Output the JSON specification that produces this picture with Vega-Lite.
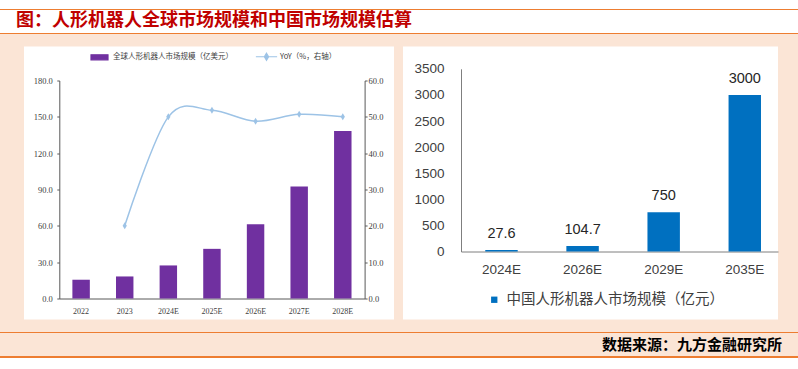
{
  "$schema": "https://vega.github.io/schema/vega-lite/v6.json",
  "background": "#FBE5D6",
  "padding": 0,
  "spacing": 12.5,
  "config": {"view": {"stroke": null}, "font": "Noto Sans CJK SC"},
  "datasets": {
    "global": [
      {"year": "2022", "market": 15.5, "yoy": null},
      {"year": "2023", "market": 18.2, "yoy": 20},
      {"year": "2024E", "market": 27.3, "yoy": 50},
      {"year": "2025E", "market": 41, "yoy": 51.8},
      {"year": "2026E", "market": 61.4, "yoy": 48.8},
      {"year": "2027E", "market": 92.4, "yoy": 50.7},
      {"year": "2028E", "market": 138.4, "yoy": 50}
    ],
    "china": [
      {"year": "2024E", "value": 27.6},
      {"year": "2026E", "value": 104.7},
      {"year": "2029E", "value": 750},
      {"year": "2035E", "value": 3000}
    ],
    "header": [{"t": "图：人形机器人全球市场规模和中国市场规模估算"}],
    "footer": [{"t": "数据来源：九方金融研究所"}]
  },
  "vconcat": [
    {
      "width": 798,
      "height": 34,
      "view": {
        "stroke": null,
        "fill": {
          "gradient": "linear", "x1": 0, "y1": 0, "x2": 0, "y2": 1,
          "stops": [
            {"offset": 0, "color": "#ffffff"},
            {"offset": 0.262, "color": "#ffffff"},
            {"offset": 0.262, "color": "#ED7D31"},
            {"offset": 0.306, "color": "#ED7D31"},
            {"offset": 0.306, "color": "#ffffff"},
            {"offset": 0.963, "color": "#ffffff"},
            {"offset": 0.963, "color": "#ED7D31"},
            {"offset": 1, "color": "#ED7D31"}
          ]
        }
      },
      "data": {"name": "header"},
      "mark": {
        "type": "text",
        "align": "left",
        "baseline": "middle",
        "x": 16,
        "y": 20.5,
        "font": "Noto Sans CJK SC",
        "fontSize": 18,
        "fontWeight": "bold",
        "color": "#C00000"
      },
      "encoding": {"text": {"field": "t", "type": "nominal"}}
    },
    {
      "spacing": 9,
      "resolve": {"scale": {"color": "independent"}, "legend": {"color": "independent"}},
      "hconcat": [
        {
          "width": 15,
          "height": 273,
          "data": {"values": []},
          "mark": "point"
        },
        {
          "width": 370,
          "height": 273,
          "view": {"fill": "#ffffff", "stroke": null},
          "data": {"name": "global"},
          "encoding": {
            "x": {
              "field": "year",
              "type": "ordinal",
              "sort": null,
              "scale": {"range": [35.3, 340.6], "paddingInner": 0.6, "paddingOuter": 0.3},
              "axis": {
                "orient": "bottom",
                "offset": -21,
                "title": null,
                "ticks": false,
                "tickSize": 0,
                "labelAngle": 0,
                "labelPadding": 9,
                "labelFont": "Liberation Serif",
                "labelFontSize": 8,
                "labelColor": "#404040",
                "domainColor": "#595959",
                "domainWidth": 1,
                "grid": false
              }
            }
          },
          "layer": [
            {
              "mark": {"type": "bar"},
              "encoding": {
                "y": {
                  "field": "market",
                  "type": "quantitative",
                  "scale": {"domain": [0, 180], "range": [252, 34], "nice": false, "zero": true},
                  "axis": {
                    "orient": "left",
                    "offset": -35.3,
                    "values": [0, 30, 60, 90, 120, 150, 180],
                    "format": ".1f",
                    "title": null,
                    "grid": false,
                    "tickSize": 2.5,
                    "labelPadding": 4.5,
                    "labelFont": "Liberation Serif",
                    "labelFontSize": 8.5,
                    "labelColor": "#404040",
                    "domainColor": "#595959",
                    "tickColor": "#595959"
                  }
                },
                "color": {
                  "datum": "全球人形机器人市场规模（亿美元）",
                  "scale": {
                    "domain": ["全球人形机器人市场规模（亿美元）", "YoY（%，右轴）"],
                    "range": ["#7030A0", "#9DC3E6"]
                  },
                  "legend": {
                    "orient": "none",
                    "legendX": 66,
                    "legendY": 0.5,
                    "direction": "horizontal",
                    "title": null,
                    "padding": 0,
                    "symbolSize": 289,
                    "labelOffset": 4,
                    "columnPadding": 20,
                    "labelLimit": 0,
                    "labelFont": "Noto Sans CJK SC",
                    "labelFontSize": 7.5,
                    "labelColor": "#404040",
                    "encode": {
                      "symbols": {
                        "update": {
                          "shape": {"signal": "datum.value === 'YoY（%，右轴）' ? 'M-1.25,0L1.25,0M0,-0.42L0.25,0L0,0.42L-0.25,0Z' : 'M-1,-0.3L1,-0.3L1,0.3L-1,0.3Z'"},
                          "fill": {"signal": "datum.value === 'YoY（%，右轴）' ? '#9DC3E6' : '#7030A0'"},
                          "stroke": {"signal": "datum.value === 'YoY（%，右轴）' ? '#9DC3E6' : '#7030A0'"},
                          "strokeWidth": {"value": 1.2},
                          "opacity": {"value": 1}
                        }
                      }
                    }
                  }
                }
              }
            },
            {
              "mark": {
                "type": "line",
                "interpolate": "cardinal",
                "strokeWidth": 1.5,
                "point": {"shape": "M0,-1L0.6,0L0,1L-0.6,0Z", "size": 50, "filled": true}
              },
              "encoding": {
                "y": {
                  "field": "yoy",
                  "type": "quantitative",
                  "scale": {"domain": [0, 60], "range": [252, 34], "nice": false},
                  "axis": {
                    "orient": "right",
                    "offset": -29.4,
                    "values": [0, 10, 20, 30, 40, 50, 60],
                    "format": ".1f",
                    "title": null,
                    "grid": false,
                    "tickSize": 2.5,
                    "labelPadding": 1,
                    "labelFont": "Liberation Serif",
                    "labelFontSize": 8.5,
                    "labelColor": "#404040",
                    "domainColor": "#595959",
                    "tickColor": "#595959"
                  }
                },
                "color": {"datum": "YoY（%，右轴）"}
              }
            }
          ],
          "resolve": {"scale": {"y": "independent"}}
        },
        {
          "width": 375,
          "height": 273,
          "view": {"fill": "#ffffff", "stroke": null},
          "data": {"name": "china"},
          "encoding": {
            "x": {
              "field": "year",
              "type": "ordinal",
              "sort": null,
              "scale": {"range": [58, 375], "paddingInner": 0.6, "paddingOuter": 0.2545, "align": 0.588},
              "axis": {
                "orient": "bottom",
                "offset": -68,
                "title": null,
                "ticks": false,
                "tickSize": 0,
                "labelAngle": 0,
                "labelPadding": 11,
                "labelFont": "Liberation Sans",
                "labelFontSize": 13.5,
                "labelColor": "#404040",
                "domainColor": "#7F7F7F",
                "grid": false
              }
            },
            "y": {
              "field": "value",
              "type": "quantitative",
              "scale": {"domain": [0, 3500], "range": [205, 22.3], "nice": false},
              "axis": {
                "orient": "left",
                "offset": -58,
                "values": [0, 500, 1000, 1500, 2000, 2500, 3000, 3500],
                "format": "d",
                "title": null,
                "grid": false,
                "ticks": false,
                "tickSize": 0,
                "labelPadding": 17,
                "labelFont": "Liberation Sans",
                "labelFontSize": 13.5,
                "labelColor": "#404040",
                "domainColor": "#7F7F7F"
              }
            }
          },
          "layer": [
            {
              "mark": {"type": "bar"},
              "encoding": {
                "color": {
                  "datum": "中国人形机器人市场规模（亿元）",
                  "scale": {"domain": ["中国人形机器人市场规模（亿元）"], "range": ["#0070C0"]},
                  "legend": {
                    "orient": "none",
                    "legendX": 84,
                    "legendY": 246,
                    "title": null,
                    "padding": 0,
                    "symbolType": "square",
                    "symbolSize": 40,
                    "symbolStrokeWidth": 0,
                    "labelOffset": 5,
                    "labelLimit": 0,
                    "labelFont": "Noto Sans CJK SC",
                    "labelFontSize": 14.5,
                    "labelColor": "#404040"
                  }
                }
              }
            },
            {
              "mark": {"type": "text", "dy": -16, "baseline": "middle", "font": "Liberation Sans", "fontSize": 14.5, "color": "#262626"},
              "encoding": {"text": {"field": "value", "type": "quantitative", "format": "~g"}}
            }
          ]
        }
      ]
    },
    {
      "width": 798,
      "height": 37,
      "view": {
        "stroke": null,
        "fill": {
          "gradient": "linear", "x1": 0, "y1": 0, "x2": 0, "y2": 1,
          "stops": [
            {"offset": 0, "color": "#ED7D31"},
            {"offset": 0.04, "color": "#ED7D31"},
            {"offset": 0.04, "color": "#FBE5D6"},
            {"offset": 0.653, "color": "#FBE5D6"},
            {"offset": 0.653, "color": "#ED7D31"},
            {"offset": 0.694, "color": "#ED7D31"},
            {"offset": 0.694, "color": "#ffffff"},
            {"offset": 1, "color": "#ffffff"}
          ]
        }
      },
      "data": {"name": "footer"},
      "mark": {
        "type": "text",
        "align": "right",
        "baseline": "middle",
        "x": 782,
        "y": 12.5,
        "font": "Noto Sans CJK SC",
        "fontSize": 15,
        "fontWeight": "bold",
        "color": "#000000"
      },
      "encoding": {"text": {"field": "t", "type": "nominal"}}
    }
  ]
}
